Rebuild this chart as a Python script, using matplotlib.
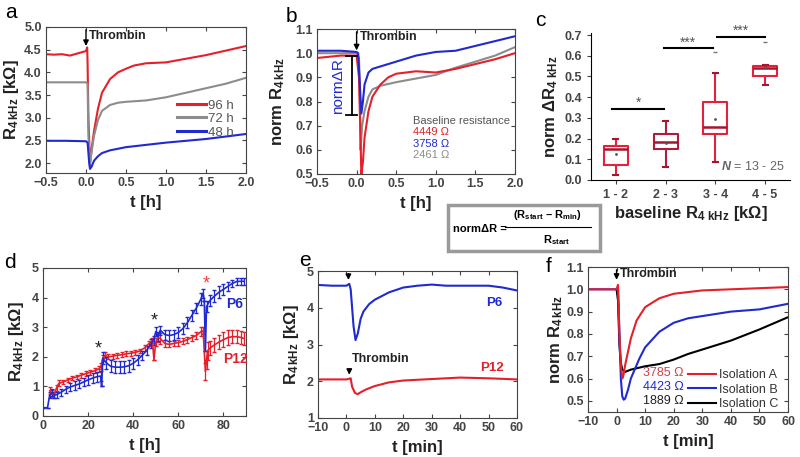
import numpy as np
import matplotlib
matplotlib.use("Agg")
import matplotlib.pyplot as plt
from matplotlib.lines import Line2D
from matplotlib.patches import Rectangle

plt.rcParams['font.family'] = ['Liberation Sans', 'DejaVu Sans']
plt.rcParams['font.weight'] = 'bold'
plt.rcParams['mathtext.fontset'] = 'custom'
plt.rcParams['mathtext.rm'] = 'Liberation Sans'
plt.rcParams['mathtext.bf'] = 'Liberation Sans:bold'
plt.rcParams['mathtext.it'] = 'Liberation Sans:italic'
plt.rcParams['xtick.labelsize'] = 9
plt.rcParams['ytick.labelsize'] = 9
plt.rcParams['xtick.color'] = '#444444'
plt.rcParams['ytick.color'] = '#444444'

RED = '#e5202a'
BLUE = '#1f2ad0'
GRAY = '#8c8c8c'

# ---- panel a: resistance after thrombin, three culture times ----
a_t96 = [-0.5, -0.4, -0.3, -0.2, -0.1, 0.0, 0.015, 0.02, 0.03, 0.05, 0.07, 0.1, 0.15, 0.2, 0.3, 0.4, 0.5, 0.6, 0.75, 1.0, 1.25, 1.5, 1.75, 2.0]
a_r96 = [4.40, 4.39, 4.40, 4.37, 4.42, 4.47, 4.55, 4.2, 3.0, 2.0, 2.3, 2.7, 3.2, 3.55, 3.85, 4.0, 4.08, 4.15, 4.2, 4.22, 4.3, 4.38, 4.48, 4.58]
a_t72 = [-0.5, -0.25, 0.0, 0.02, 0.03, 0.05, 0.07, 0.1, 0.15, 0.2, 0.3, 0.4, 0.5, 0.75, 1.0, 1.25, 1.5, 1.75, 2.0]
a_r72 = [3.78, 3.78, 3.78, 3.75, 2.6, 1.95, 2.25, 2.6, 2.95, 3.15, 3.28, 3.33, 3.35, 3.38, 3.45, 3.55, 3.65, 3.75, 3.88]
a_t48 = [-0.5, -0.25, 0.0, 0.02, 0.04, 0.05, 0.07, 0.1, 0.15, 0.2, 0.3, 0.5, 1.0, 1.5, 2.0]
a_r48 = [2.49, 2.49, 2.48, 2.45, 2.0, 1.87, 1.92, 2.05, 2.15, 2.22, 2.28, 2.35, 2.45, 2.53, 2.64]

# ---- panel b: normalised resistance ----
b_t_red = [-0.5, -0.2, 0.0, 0.03, 0.06, 0.08, 0.1, 0.15, 0.2, 0.3, 0.4, 0.5, 0.75, 1.0, 1.25, 1.5, 1.75, 2.0]
b_r_red = [0.98, 0.99, 0.99, 0.9, 0.5, 0.55, 0.65, 0.76, 0.82, 0.87, 0.90, 0.915, 0.925, 0.92, 0.935, 0.955, 0.975, 1.0]
b_t_blue = [-0.5, -0.2, 0.0, 0.02, 0.06, 0.08, 0.1, 0.15, 0.2, 0.3, 0.5, 0.75, 1.0, 1.25, 1.5, 1.75, 2.0]
b_r_blue = [1.01, 1.01, 1.005, 1.0, 0.75, 0.80, 0.87, 0.92, 0.935, 0.945, 0.965, 0.99, 1.005, 1.01, 1.03, 1.05, 1.07]
b_t_gray = [-0.5, 0.0, 0.03, 0.04, 0.05, 0.07, 0.1, 0.15, 0.2, 0.3, 0.5, 0.75, 1.0, 1.25, 1.5, 1.75, 2.0]
b_r_gray = [1.0, 1.0, 0.98, 0.88, 0.6, 0.70, 0.76, 0.82, 0.85, 0.865, 0.88, 0.895, 0.91, 0.94, 0.965, 0.99, 1.025]
b_baselines = ['4449 Ω', '3758 Ω', '2461 Ω']

# ---- panel c: box statistics per baseline class ----
c_labels = ['1 - 2', '2 - 3', '3 - 4', '4 - 5']
c_whislo = [0.025, 0.064, 0.088, 0.458]
c_q1 = [0.073, 0.148, 0.223, 0.504]
c_med = [0.150, 0.185, 0.255, 0.542]
c_q3 = [0.162, 0.223, 0.375, 0.552]
c_whishi = [0.196, 0.283, 0.519, 0.555]
c_mean = [0.127, 0.180, 0.294, 0.545]
c_fliers = [[], [], [0.62], [0.668]]
c_edge = ['#e5203a', '#b01c3c', '#e5203a', '#e5203a']

# ---- panel d: long-term resistance of P6 and P12 ----
d_t_p6 = [0, 2, 3, 4, 5, 6, 8, 10, 12, 14, 16, 18, 20, 22, 24, 25.5, 26, 26.5, 28, 30, 32, 34, 36, 38, 40, 42, 44, 46, 48, 49, 50, 51, 52, 54, 56, 58, 60, 62, 64, 66, 68, 70, 71, 71.5, 72, 72.5, 74, 76, 78, 80, 82, 84, 86, 88, 89]
d_r_p6 = [0.28, 0.28, 0.72, 0.80, 0.70, 0.72, 0.80, 0.90, 0.98, 1.03, 1.08, 1.15, 1.22, 1.28, 1.33, 1.35, 1.0, 1.95, 1.80, 1.68, 1.65, 1.65, 1.66, 1.70, 1.78, 1.90, 2.05, 2.22, 2.45, 2.55, 2.85, 2.70, 2.90, 2.75, 2.72, 2.75, 2.82, 2.95, 3.15, 3.40, 3.65, 3.95, 4.15, 3.9, 2.2, 3.7, 3.90, 4.05, 4.18, 4.28, 4.38, 4.48, 4.55, 4.55, 4.55]
d_e_p6 = [0, 0, 0.1, 0.12, 0.1, 0.1, 0.12, 0.12, 0.13, 0.14, 0.15, 0.15, 0.16, 0.17, 0.17, 0.17, 0, 0.2, 0.2, 0.2, 0.2, 0.2, 0.2, 0.2, 0.18, 0.17, 0.15, 0.15, 0.15, 0.15, 0.15, 0.15, 0.15, 0.17, 0.17, 0.17, 0.18, 0.18, 0.18, 0.18, 0.18, 0.2, 0.15, 0, 0, 0.2, 0.2, 0.2, 0.2, 0.18, 0.15, 0.12, 0.12, 0.12, 0.12]
d_t_p12 = [3, 4, 5, 6, 7, 9, 11, 13, 15, 17, 19, 21, 23, 25, 25.8, 26.5, 27.5, 29, 31, 33, 35, 37, 39, 41, 43, 45, 47, 48.5, 49.2, 50, 51, 52, 54, 56, 58, 60, 62, 64, 66, 68, 70, 71, 72, 72.5, 73, 74, 76, 78, 80, 82, 84, 86, 88, 89]
d_r_p12 = [0.85, 0.75, 0.72, 0.95, 1.10, 1.15, 1.22, 1.28, 1.32, 1.38, 1.43, 1.48, 1.53, 1.60, 1.70, 1.95, 2.05, 2.00, 2.02, 2.05, 2.07, 2.10, 2.12, 2.15, 2.20, 2.30, 2.45, 2.55, 1.9, 2.50, 2.65, 2.62, 2.45, 2.42, 2.45, 2.48, 2.52, 2.58, 2.65, 2.72, 2.85, 2.88, 1.5, 1.9, 2.2, 2.30, 2.40, 2.50, 2.58, 2.65, 2.68, 2.68, 2.65, 2.62]
d_e_p12 = [0.12, 0.12, 0.1, 0.1, 0.1, 0.08, 0.08, 0.08, 0.08, 0.08, 0.08, 0.08, 0.08, 0.1, 0.1, 0.1, 0.1, 0.08, 0.08, 0.08, 0.08, 0.08, 0.08, 0.08, 0.08, 0.1, 0.1, 0.1, 0, 0.15, 0.15, 0.2, 0.12, 0.1, 0.1, 0.1, 0.1, 0.1, 0.1, 0.12, 0.15, 0.12, 0.3, 0.3, 0.3, 0.25, 0.25, 0.25, 0.25, 0.25, 0.22, 0.22, 0.22, 0.22]

# ---- panel e: thrombin response of P6 and P12 ----
e_t_p6 = [-10, -5, 0, 1, 1.5, 2, 2.5, 3.2, 4, 5, 6, 8, 10, 15, 20, 25, 30, 35, 40, 45, 50, 55, 60]
e_r_p6 = [4.62, 4.60, 4.60, 4.65, 4.50, 4.0, 3.5, 3.12, 3.3, 3.7, 3.9, 4.1, 4.22, 4.42, 4.55, 4.60, 4.63, 4.60, 4.60, 4.60, 4.60, 4.55, 4.47]
e_t_p12 = [-10, 0, 1, 1.5, 2, 3, 4, 5, 7, 10, 15, 20, 30, 40, 50, 60]
e_r_p12 = [2.05, 2.05, 2.07, 2.08, 1.85, 1.68, 1.65, 1.70, 1.78, 1.87, 1.97, 2.02, 2.06, 2.10, 2.08, 2.05]

# ---- panel f: three isolations ----
f_t_a = [-10, 0, 0.5, 1, 1.5, 2, 2.5, 3, 4, 5, 7, 10, 15, 20, 30, 40, 50, 60]
f_r_a = [1.0, 1.0, 1.02, 0.8, 0.66, 0.60, 0.62, 0.66, 0.72, 0.78, 0.86, 0.92, 0.96, 0.98, 0.995, 1.0, 1.005, 1.01]
f_t_b = [-10, 0, 0.5, 1, 1.5, 2, 2.5, 3, 4, 5, 6, 8, 10, 15, 20, 25, 30, 40, 50, 60]
f_r_b = [1.0, 1.0, 1.0, 0.8, 0.6, 0.52, 0.505, 0.51, 0.55, 0.60, 0.63, 0.69, 0.74, 0.81, 0.85, 0.87, 0.88, 0.90, 0.91, 0.935]
f_t_c = [0, 0.5, 1, 1.5, 2, 3, 5, 10, 15, 20, 25, 30, 40, 50, 60]
f_r_c = [1.0, 0.95, 0.75, 0.67, 0.64, 0.63, 0.64, 0.655, 0.665, 0.685, 0.71, 0.73, 0.77, 0.82, 0.875]
f_labels = ['Isolation A', 'Isolation B', 'Isolation C']
f_baselines = ['3785 Ω', '4423 Ω', '1889 Ω']

W, H = 800, 457
fig = plt.figure(figsize=(W / 100, H / 100), dpi=100)


def px_axes(l, t, r, b):
    return fig.add_axes([l / W, 1 - b / H, (r - l) / W, (b - t) / H])


def box_style(ax):
    ax.tick_params(direction='in', top=True, right=True, length=3, pad=3)
    for s in ax.spines.values():
        s.set_color('#444444')


def thrombin(ax, x, ytop, yend, text=True, tx=None, ty=None):
    ax.annotate('', xy=(x, yend), xytext=(x, ytop),
                arrowprops=dict(arrowstyle='-|>', color='k', lw=1, mutation_scale=8))
    if text:
        ax.text(tx, ty, 'Thrombin', fontsize=9, fontweight='bold', color='#222222', va='center')


LBL = dict(fontsize=12, fontweight='bold', color='#222222')
NRM = 'normal'
R4 = r'R$_{\mathbf{4\,kHz}}$'

# a
ax = px_axes(46, 27, 246, 173)
ax.plot(a_t96, a_r96, color=RED, lw=1.5, label='96 h')
ax.plot(a_t72, a_r72, color=GRAY, lw=1.5, label='72 h')
ax.plot(a_t48, a_r48, color=BLUE, lw=1.5, label='48 h')
ax.set_xlim(-0.5, 2.0)
ax.set_ylim(1.78, 5.0)
ax.set_xticks(np.arange(-0.5, 2.01, 0.5))
ax.set_yticks(np.arange(2.0, 5.01, 0.5))
box_style(ax)
thrombin(ax, 0.0, 5.0, 4.52, tx=0.03, ty=4.8)
ax.set_xlabel('t [h]', **LBL)
ax.set_ylabel(R4 + ' [kΩ]', labelpad=2, **LBL)
leg = ax.legend(loc='center right', bbox_to_anchor=(1.0, 0.37), frameon=False,
                prop={'size': 9.5, 'weight': NRM}, handlelength=2.2, handletextpad=0.2,
                labelspacing=0.1, labelcolor='#555555')
for h in leg.legend_handles:
    h.set_linewidth(2.2)

# b
ax = px_axes(317, 29, 515, 174)
ax.plot(b_t_gray, b_r_gray, color=GRAY, lw=1.5)
ax.plot(b_t_red, b_r_red, color=RED, lw=1.5)
ax.plot(b_t_blue, b_r_blue, color=BLUE, lw=1.5)
ax.set_xlim(-0.5, 2.0)
ax.set_ylim(0.5, 1.1)
ax.set_xticks(np.arange(-0.5, 2.01, 0.5))
ax.set_yticks(np.arange(0.5, 1.11, 0.1))
box_style(ax)
thrombin(ax, 0.0, 1.1, 1.0, tx=0.04, ty=1.065)
ax.plot([-0.06, -0.06], [0.743, 0.99], color='k', lw=1.3)
ax.plot([-0.14, 0.01], [0.99, 0.99], color='k', lw=1.3)
ax.plot([-0.14, 0.01], [0.743, 0.743], color='k', lw=1.3)
ax.text(-0.24, 0.865, 'norm\u0394R', rotation=90, color=BLUE, fontsize=11, fontweight=NRM,
        ha='center', va='center')
ax.text(0.71, 0.72, 'Baseline resistance', color='#555555', fontsize=8, fontweight=NRM, va='center')
for txt, c, y in zip(b_baselines, [RED, BLUE, GRAY], [0.672, 0.624, 0.578]):
    ax.text(0.71, y, txt, color=c, fontsize=8, fontweight=NRM, va='center')
ax.set_xlabel('t [h]', **LBL)
ax.set_ylabel(r'norm R$_{\mathbf{4\,kHz}}$', labelpad=6, **LBL)

# c
ax = px_axes(591, 33, 790, 180)
for i in range(len(c_labels)):
    st = dict(med=c_med[i], q1=c_q1[i], q3=c_q3[i], whislo=c_whislo[i],
              whishi=c_whishi[i], mean=c_mean[i], fliers=c_fliers[i])
    ax.bxp([st], positions=[i + 1], widths=0.48, showmeans=True,
           boxprops=dict(color=c_edge[i], lw=1.5),
           medianprops=dict(color='#a01830', lw=1.8),
           whiskerprops=dict(color=c_edge[i], lw=1.5),
           capprops=dict(color='#a01830', lw=1.5),
           capwidths=0.1,
           meanprops=dict(marker='.', markersize=2, color='#555555', markeredgecolor='#555555'),
           flierprops=dict(marker='_', markersize=3, markeredgecolor='#777777'))
ax.set_xlim(0.5, 4.5)
ax.set_ylim(0, 0.71)
ax.set_yticks(np.arange(0, 0.71, 0.1))
ax.set_xticks([1, 2, 3, 4])
ax.set_xticklabels(c_labels)
ax.spines['top'].set_visible(False)
ax.spines['right'].set_visible(False)
ax.tick_params(length=3)
ax.plot([0.92, 1.96], [0.343, 0.343], color='k', lw=1.5)
ax.plot([1.96, 2.96], [0.636, 0.636], color='k', lw=1.5)
ax.plot([3.04, 4.0], [0.692, 0.692], color='k', lw=1.5)
ax.text(1.45, 0.355, '*', color='#555555', fontsize=10, fontweight=NRM, ha='center')
ax.text(2.45, 0.645, '***', color='#555555', fontsize=10, fontweight=NRM, ha='center')
ax.text(3.52, 0.700, '***', color='#555555', fontsize=10, fontweight=NRM, ha='center')
ax.text(4.4, 0.05, r'$\mathit{N}$ = 13 - 25', color='#666666', fontsize=9, fontweight=NRM, ha='right')
ax.set_xlabel(r'baseline R$_{\mathbf{4\ kHz}}$ [kΩ]', labelpad=2, **LBL)
ax.set_ylabel(r'norm $\Delta$R$_{\mathbf{4\ kHz}}$', labelpad=3, **LBL)

# d
ax = px_axes(43, 268, 246, 416)
ax.errorbar(d_t_p12, d_r_p12, yerr=d_e_p12, color=RED, lw=1.2, elinewidth=0.9, capsize=1.5)
ax.errorbar(d_t_p6, d_r_p6, yerr=d_e_p6, color=BLUE, lw=1.2, elinewidth=0.9, capsize=1.5)
ax.set_xlim(0, 90)
ax.set_ylim(0, 5)
ax.set_xticks([0, 20, 40, 60, 80])
box_style(ax)
ax.text(24.5, 2.1, '*', fontsize=13, fontweight=NRM, color='#222222', ha='center')
ax.text(49.5, 3.05, '*', fontsize=13, fontweight=NRM, color='#222222', ha='center')
ax.text(72.3, 4.3, '*', fontsize=13, fontweight=NRM, color='#f04040', ha='center')
ax.text(81, 3.65, 'P6', fontsize=10, fontweight='bold', color=BLUE)
ax.text(80, 1.8, 'P12', fontsize=10, fontweight='bold', color=RED)
ax.set_xlabel('t [h]', **LBL)
ax.set_ylabel(R4 + ' [kΩ]', labelpad=4, **LBL)

# e
ax = px_axes(318, 271, 517, 418)
ax.plot(e_t_p6, e_r_p6, color=BLUE, lw=1.5)
ax.plot(e_t_p12, e_r_p12, color=RED, lw=1.5)
ax.set_xlim(-10, 60)
ax.set_ylim(1, 5)
ax.set_xticks(np.arange(-10, 61, 10))
ax.set_yticks([1, 2, 3, 4, 5])
box_style(ax)
thrombin(ax, 0.7, 5.0, 4.68, text=False)
thrombin(ax, 1.0, 2.4, 2.1, tx=2.0, ty=2.6)
ax.text(49, 4.12, 'P6', fontsize=9.5, fontweight='bold', color=BLUE, va='center')
ax.text(47, 2.36, 'P12', fontsize=9.5, fontweight='bold', color=RED, va='center')
ax.set_xlabel('t [min]', **LBL)
ax.set_ylabel(R4 + ' [kΩ]', labelpad=4, **LBL)

# f
ax = px_axes(588, 267, 788, 412)
ax.plot(f_t_c, f_r_c, color='k', lw=1.5, label=f_labels[2])
ax.plot(f_t_b, f_r_b, color=BLUE, lw=1.5, label=f_labels[1])
ax.plot(f_t_a, f_r_a, color=RED, lw=1.5, label=f_labels[0])
ax.set_xlim(-10, 60)
ax.set_ylim(0.45, 1.1)
ax.set_xticks(np.arange(-10, 61, 10))
ax.set_yticks(np.arange(0.5, 1.11, 0.1))
box_style(ax)
thrombin(ax, 0.0, 1.1, 1.03, tx=1.0, ty=1.07)
hs, ls = ax.get_legend_handles_labels()
ax.legend(hs[::-1], ls[::-1], loc='lower right', bbox_to_anchor=(1.01, -0.065), frameon=False,
          prop={'size': 9, 'weight': NRM}, handlelength=2.2, handletextpad=0.3,
          labelspacing=0.2, labelcolor='#333333')
for txt, c, y in zip(f_baselines, ['#d04050', BLUE, '#222222'], [0.624, 0.561, 0.498]):
    ax.text(23.5, y, txt, color=c, fontsize=9, fontweight=NRM, ha='right', va='center')
ax.set_xlabel('t [min]', **LBL)
ax.set_ylabel(r'norm R$_{\mathbf{4\,kHz}}$', labelpad=1, **LBL)

# formula box
fig.patches.append(Rectangle((448 / W, 1 - 251 / H), 152 / W, 46 / H, transform=fig.transFigure,
                             fill=False, edgecolor='#9a9a9a', lw=2.5))
fig.text(453 / W, 1 - 229 / H, 'norm\u0394R =', fontsize=8, fontweight='bold', va='center')
fig.text(547 / W, 1 - 215 / H, r'(R$_{\mathbf{start}}$ – R$_{\mathbf{min}}$)', fontsize=8,
         fontweight='bold', ha='center', va='center')
fig.lines.append(Line2D([505 / W, 591 / W], [1 - 227 / H, 1 - 227 / H], transform=fig.transFigure,
                        color='k', lw=0.8))
fig.text(556 / W, 1 - 240 / H, r'R$_{\mathbf{start}}$', fontsize=8, fontweight='bold',
         ha='center', va='center')

# panel letters
for letter, x, y in [('a', 11, 13), ('b', 291, 16), ('c', 540, 20),
                     ('d', 10, 263), ('e', 305, 261), ('f', 549, 267)]:
    fig.text(x / W, 1 - y / H, letter, fontsize=15, fontweight=NRM, ha='center', va='center')

fig.savefig('out.png', dpi=100)
